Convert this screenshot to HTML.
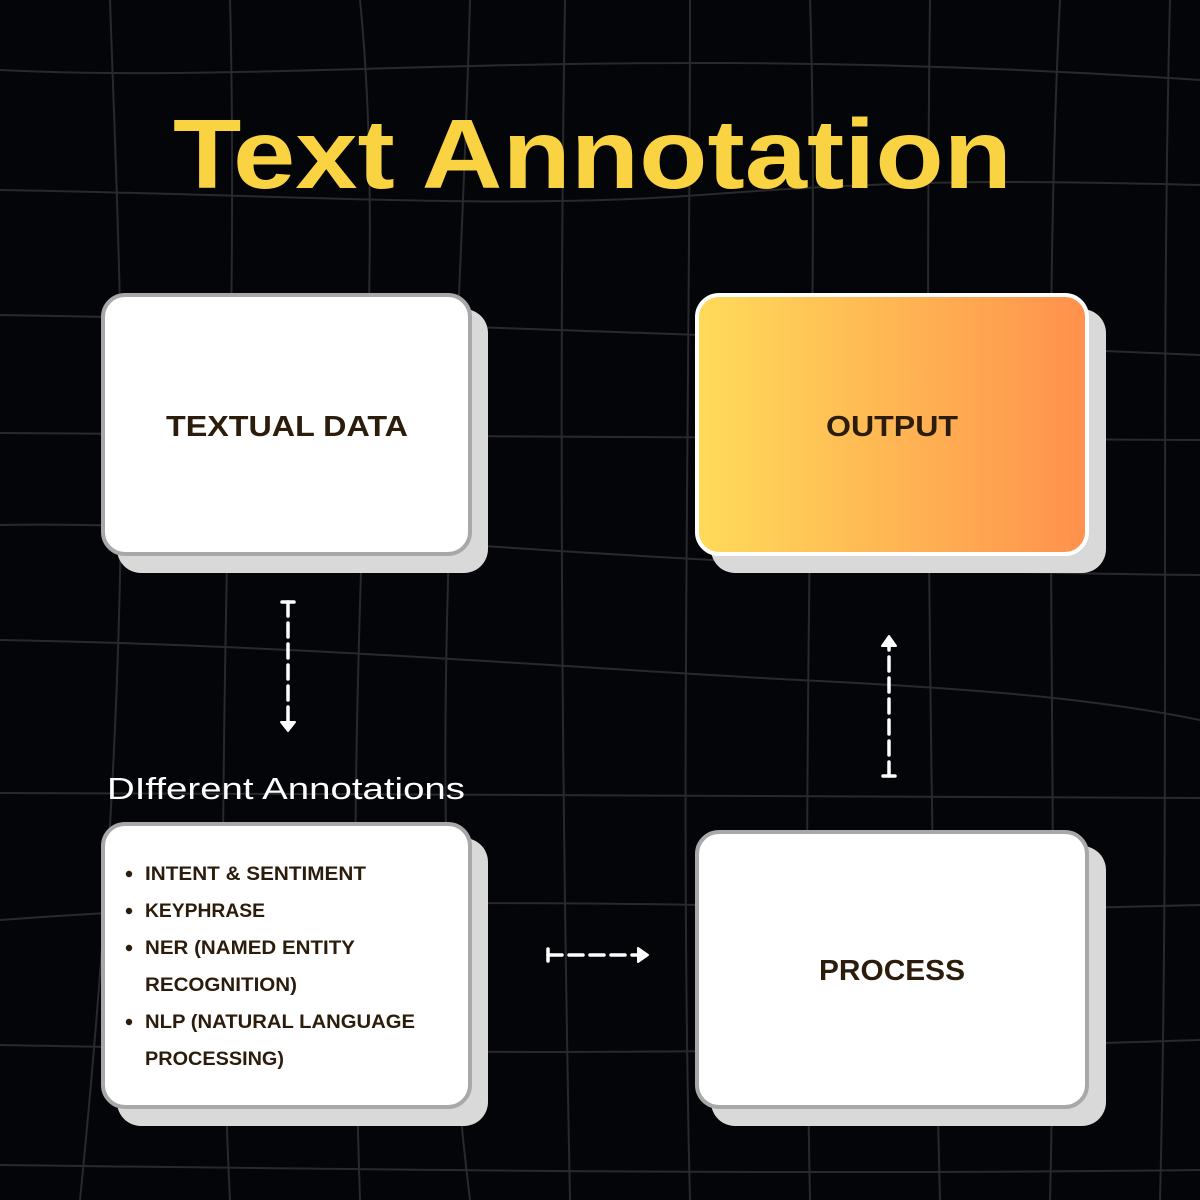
<!DOCTYPE html>
<html><head><meta charset="utf-8"><style>
html,body{margin:0;padding:0;background:#040508;}
svg{display:block}
</style></head><body>
<svg width="1200" height="1200" viewBox="0 0 1200 1200" xmlns="http://www.w3.org/2000/svg">
<defs>
<linearGradient id="g" x1="0" x2="1" y1="0" y2="0">
<stop offset="0" stop-color="#ffdb5a"/><stop offset="1" stop-color="#ff914d"/>
</linearGradient>
</defs>
<rect width="1200" height="1200" fill="#040508"/>
<g stroke="#29292d" stroke-width="2" fill="none">
<path d="M0 70 C300 85 600 40 1200 80"/>
<path d="M0 190 C300 195 500 210 700 195 S1000 180 1200 185"/>
<path d="M0 315 C300 320 600 330 1200 355"/>
<path d="M0 433 C400 435 800 440 1200 440"/>
<path d="M0 525 C300 520 600 570 1200 575"/>
<path d="M0 640 C300 645 600 670 800 680 S1100 700 1200 720"/>
<path d="M0 793 C400 795 800 795 1200 798"/>
<path d="M0 920 C200 905 400 900 700 905 S1000 910 1200 905"/>
<path d="M0 1045 C300 1050 600 1060 1200 1040"/>
<path d="M0 1165 C400 1170 800 1175 1200 1170"/>
<path d="M110 0 C120 300 140 600 80 1200"/>
<path d="M230 0 C240 400 210 800 230 1200"/>
<path d="M360 0 C390 300 340 600 360 1200"/>
<path d="M470 0 C460 400 420 800 470 1200"/>
<path d="M565 0 C560 300 560 700 570 1200"/>
<path d="M690 0 C690 400 680 800 690 1200"/>
<path d="M810 0 C820 300 800 700 810 1200"/>
<path d="M930 0 C925 400 930 800 940 1200"/>
<path d="M1060 0 C1040 400 1060 800 1050 1200"/>
<path d="M1170 0 C1160 400 1170 800 1160 1200"/>
</g>
<text x="173" y="188" font-family="Liberation Sans, sans-serif" font-weight="bold" font-size="98" fill="#f9d342" textLength="839" lengthAdjust="spacingAndGlyphs">Text Annotation</text>

<rect x="117" y="309" width="371" height="264" rx="24" fill="#d9d9d9"/>
<rect x="103" y="295" width="367" height="259" rx="22" fill="#fff" stroke="#a8a8a8" stroke-width="4"/>
<text x="287" y="436" text-anchor="middle" font-family="Liberation Sans, sans-serif" font-weight="bold" font-size="29" fill="#2b1c0b" textLength="242" lengthAdjust="spacingAndGlyphs">TEXTUAL DATA</text>

<rect x="711" y="309" width="395" height="264" rx="24" fill="#d9d9d9"/>
<rect x="697" y="295" width="390" height="259" rx="22" fill="url(#g)" stroke="#fff" stroke-width="4"/>
<text x="892" y="436" text-anchor="middle" font-family="Liberation Sans, sans-serif" font-weight="bold" font-size="29" fill="#2b1c0b" textLength="132" lengthAdjust="spacingAndGlyphs">OUTPUT</text>

<rect x="117" y="838" width="371" height="288" rx="24" fill="#d9d9d9"/>
<rect x="103" y="824" width="367" height="283" rx="22" fill="#fff" stroke="#a8a8a8" stroke-width="4"/>

<rect x="711" y="846" width="395" height="280" rx="24" fill="#d9d9d9"/>
<rect x="697" y="832" width="390" height="275" rx="22" fill="#fff" stroke="#a8a8a8" stroke-width="4"/>
<text x="892" y="980" text-anchor="middle" font-family="Liberation Sans, sans-serif" font-weight="bold" font-size="29" fill="#2b1c0b" textLength="146" lengthAdjust="spacingAndGlyphs">PROCESS</text>

<text x="107" y="799" font-family="Liberation Sans, sans-serif" font-size="31" fill="#fff" textLength="358" lengthAdjust="spacingAndGlyphs">DIfferent Annotations</text>

<g font-family="Liberation Sans, sans-serif" font-weight="bold" font-size="19" fill="#2b1c0b">
<circle cx="129" cy="874" r="3.2"/><text x="145" y="880" textLength="221" lengthAdjust="spacingAndGlyphs">INTENT &amp; SENTIMENT</text>
<circle cx="129" cy="911" r="3.2"/><text x="145" y="917" textLength="120" lengthAdjust="spacingAndGlyphs">KEYPHRASE</text>
<circle cx="129" cy="948" r="3.2"/><text x="145" y="954" textLength="210" lengthAdjust="spacingAndGlyphs">NER (NAMED ENTITY</text>
<text x="145" y="991" textLength="152" lengthAdjust="spacingAndGlyphs">RECOGNITION)</text>
<circle cx="129" cy="1022" r="3.2"/><text x="145" y="1028" textLength="270" lengthAdjust="spacingAndGlyphs">NLP (NATURAL LANGUAGE</text>
<text x="145" y="1065" textLength="139" lengthAdjust="spacingAndGlyphs">PROCESSING)</text>
</g>

<g stroke="#fff" stroke-width="3.5" stroke-linecap="round" fill="#fff">
<line x1="282" y1="602" x2="294" y2="602"/>
<line x1="288" y1="602" x2="288" y2="722" stroke-dasharray="14 7"/>
<path d="M281 722 L295 722 L288 731 Z" stroke-width="2" stroke-linejoin="round"/>

<line x1="883" y1="776" x2="895" y2="776"/>
<line x1="889" y1="776" x2="889" y2="646" stroke-dasharray="14 7"/>
<path d="M882 646 L896 646 L889 636 Z" stroke-width="2" stroke-linejoin="round"/>

<line x1="548" y1="949" x2="548" y2="961"/>
<line x1="548" y1="955" x2="638" y2="955" stroke-dasharray="14 7"/>
<path d="M638 948 L638 962 L648 955 Z" stroke-width="2" stroke-linejoin="round"/>
</g>
</svg>
</body></html>
